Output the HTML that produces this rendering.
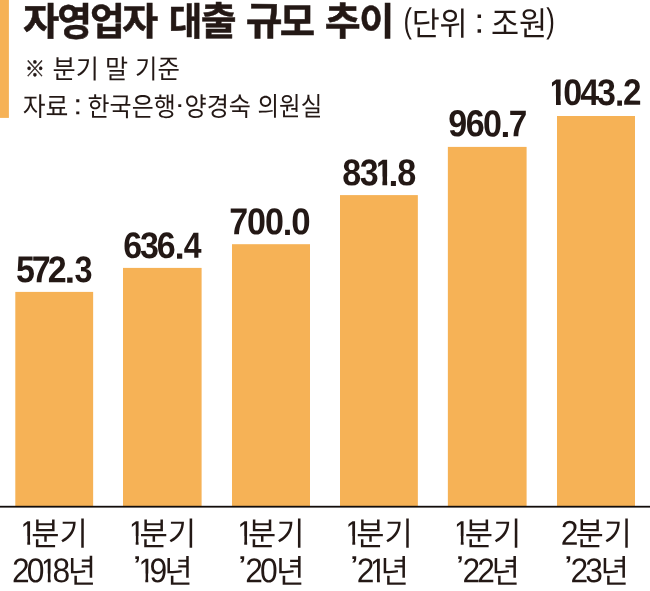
<!DOCTYPE html>
<html lang="ko">
<head>
<meta charset="utf-8">
<title>자영업자 대출 규모 추이</title>
<style>
html,body{margin:0;padding:0;background:#fff;}
body{width:650px;height:591px;position:relative;overflow:hidden;font-family:'Liberation Sans','Noto Sans CJK KR',sans-serif;color:#231815;}
h1,p,div,span{margin:0;padding:0;}
.shapes{position:absolute;left:0;top:0;display:block;}
.g{position:absolute;left:0;top:0;font-weight:400;font-size:16px;line-height:16px;white-space:pre;}
.t{position:absolute;left:0;top:0;white-space:pre;transform-origin:0 0;}
.sp{position:absolute;left:0;top:0;font-size:1px;line-height:1px;}
.tt{font-weight:700;font-size:38px;line-height:38px;-webkit-text-stroke:.5px #231815;}
.up{font-weight:400;font-size:33px;line-height:33px;}
.uh{font-weight:400;font-size:31px;line-height:31px;}
.uc{font-weight:400;font-size:31px;line-height:31px;}
.sh{font-weight:400;font-size:26px;line-height:26px;}
.sc{font-weight:400;font-size:26px;line-height:26px;}
.sx{font-weight:400;font-size:22px;line-height:22px;-webkit-text-stroke:.4px #231815;}
.vv{font-weight:700;font-size:37px;line-height:37px;letter-spacing:-1.4px;}
.ad{font-weight:400;font-size:34px;line-height:34px;letter-spacing:-3.1px;}
.ah{font-weight:400;font-size:32px;line-height:32px;}
.o{display:inline-block;letter-spacing:0;}
.ob{clip-path:polygon(19.6% 0,100% 0,100% 60%,66.9% 60%,66.9% 100%,41.7% 100%,41.7% 60%,19.6% 60%);}
.or{clip-path:polygon(22.5% 0,100% 0,100% 60%,61.4% 60%,61.4% 100%,44.9% 100%,44.9% 60%,22.5% 60%);}
</style>
</head>
<body>
<svg class="shapes" width="650" height="591" viewBox="0 0 650 591" aria-hidden="true"><rect x="0" y="0" width="8.9" height="117.9" fill="#f6b256"/><rect x="15.3" y="291.9" width="77.85" height="214.40" fill="#f6b256"/><rect x="123.0" y="267.9" width="78.60" height="238.40" fill="#f6b256"/><rect x="232.0" y="244.2" width="78.00" height="262.10" fill="#f6b256"/><rect x="340.0" y="195.1" width="77.85" height="311.20" fill="#f6b256"/><rect x="447.85" y="146.9" width="78.75" height="359.40" fill="#f6b256"/><rect x="557.0" y="116.0" width="78.00" height="390.30" fill="#f6b256"/><rect x="0" y="505.8" width="650" height="1.80" fill="#120c0a"/></svg>
<h1 class="g"><span class="t tt" id="t0" style="transform:translate(23.05px,2.63px) scale(1.0374,1.0158) rotate(.03deg)">자</span><span class="t tt" id="t1" style="transform:translate(57.39px,2.67px) scale(0.9908,1.0340) rotate(.03deg)">영</span><span class="t tt" id="t2" style="transform:translate(89.94px,2.85px) scale(0.9939,1.0136) rotate(.03deg)">업</span><span class="t tt" id="t3" style="transform:translate(122.22px,2.89px) scale(1.0282,1.0059) rotate(.03deg)">자</span><span class="sp"> </span><span class="t tt" id="t5" style="transform:translate(168.74px,2.73px) scale(0.9573,1.0147) rotate(.03deg)">대</span><span class="t tt" id="t6" style="transform:translate(200.76px,1.92px) scale(1.0251,1.0363) rotate(.03deg)">출</span><span class="sp"> </span><span class="t tt" id="t8" style="transform:translate(245.67px,1.99px) scale(1.0522,1.0339) rotate(.03deg)">규</span><span class="t tt" id="t9" style="transform:translate(279.79px,2.61px) scale(1.0121,1.0376) rotate(.03deg)">모</span><span class="sp"> </span><span class="t tt" id="t11" style="transform:translate(324.82px,2.03px) scale(1.0275,1.0345) rotate(.03deg)">추</span><span class="t tt" id="t12" style="transform:translate(359.17px,2.87px) scale(1.0027,1.0064) rotate(.03deg)">이</span></h1>
<div class="g"><span class="t up" id="u1" style="transform:translate(403.48px,2.79px) scale(0.7673,1.0484) rotate(.03deg)">(</span><span class="t uh" id="u2" style="transform:translate(411.68px,7.99px) scale(0.9803,1.0463) rotate(.03deg)">단위</span><span class="sp"> </span><span class="t uc" id="u3" style="transform:translate(474.25px,3.56px) scale(1.1731,1.1213) rotate(.03deg)">:</span><span class="sp"> </span><span class="t uh" id="u4" style="transform:translate(490.99px,7.76px) scale(0.9853,1.0600) rotate(.03deg)">조원</span><span class="t up" id="u5" style="transform:translate(546.33px,2.78px) scale(0.7854,1.0488) rotate(.03deg)">)</span></div>
<div class="g"><span class="t sx" id="s1a" style="transform:translate(24.81px,58.54px) scale(0.9227,1.0159) rotate(.03deg)">※</span><span class="sp"> </span><span class="t sh" id="s1b" style="transform:translate(52.60px,56.01px) scale(0.9673,1.0224) rotate(.03deg)">분기</span><span class="sp"> </span><span class="t sh" id="s1c" style="transform:translate(104.99px,55.97px) scale(0.9650,1.0204) rotate(.03deg)">말</span><span class="sp"> </span><span class="t sh" id="s1d" style="transform:translate(135.02px,56.01px) scale(0.9353,1.0224) rotate(.03deg)">기준</span></div>
<div class="g"><span class="t sh" id="s2a" style="transform:translate(22.80px,93.60px) scale(0.9544,1.0126) rotate(.03deg)">자료</span><span class="sp"> </span><span class="t sc" id="s2b" style="transform:translate(73.31px,90.25px) scale(1.2486,1.0883) rotate(.03deg)">:</span><span class="sp"> </span><span class="t sh" id="s2c" style="transform:translate(87.56px,93.69px) scale(0.9221,1.0223) rotate(.03deg)">한국은행</span><span class="t sc" id="s2d" style="transform:translate(174.53px,91.07px) scale(1.2149,0.9685) rotate(.03deg)">·</span><span class="t sh" id="s2e" style="transform:translate(184.49px,93.68px) scale(0.9266,1.0147) rotate(.03deg)">양경숙</span><span class="sp"> </span><span class="t sh" id="s2f" style="transform:translate(257.57px,93.44px) scale(0.9005,1.0097) rotate(.03deg)">의원실</span></div>
<div class="g"><span class="t vv" id="v0i" style="letter-spacing:-3.28px;transform:translate(15.92px,251.08px) scale(0.9200,1.0086) rotate(.03deg)">572</span><span class="t vv" id="v0p" style="transform:translate(64.44px,253.62px) scale(1.0450,0.9360) rotate(.03deg)">.</span><span class="t vv" id="v0l" style="transform:translate(74.54px,251.19px) scale(0.8770,0.9951) rotate(.03deg)">3</span></div>
<div class="g"><span class="t vv" id="v1i" style="letter-spacing:-2.47px;transform:translate(123.34px,227.04px) scale(0.9200,0.9978) rotate(.03deg)">636</span><span class="t vv" id="v1p" style="transform:translate(174.52px,229.62px) scale(1.0006,0.9360) rotate(.03deg)">.</span><span class="t vv" id="v1l" style="transform:translate(183.67px,227.27px) scale(0.8643,0.9868) rotate(.03deg)">4</span></div>
<div class="g"><span class="t vv" id="v2i" style="letter-spacing:-1.21px;transform:translate(229.27px,202.79px) scale(0.9200,1.0114) rotate(.03deg)">700</span><span class="t vv" id="v2p" style="transform:translate(282.68px,205.76px) scale(0.9275,0.9297) rotate(.03deg)">.</span><span class="t vv" id="v2l" style="transform:translate(291.38px,202.95px) scale(0.9408,1.0066) rotate(.03deg)">0</span></div>
<div class="g"><span class="t vv" id="v3i" style="letter-spacing:-1.45px;transform:translate(342.16px,154.14px) scale(0.9200,1.0033) rotate(.03deg)">83<span class="o ob" style="margin-left:-0.084em;margin-right:0em">1</span></span><span class="t vv" id="v3p" style="transform:translate(388.58px,157.82px) scale(0.9616,0.9052) rotate(.03deg)">.</span><span class="t vv" id="v3l" style="transform:translate(397.38px,153.97px) scale(0.9238,1.0066) rotate(.03deg)">8</span></div>
<div class="g"><span class="t vv" id="v4i" style="letter-spacing:-1.64px;transform:translate(448.23px,104.94px) scale(0.9200,1.0135) rotate(.03deg)">960</span><span class="t vv" id="v4p" style="transform:translate(500.58px,108.82px) scale(0.9616,0.9052) rotate(.03deg)">.</span><span class="t vv" id="v4l" style="transform:translate(508.65px,105.05px) scale(0.9004,1.0035) rotate(.03deg)">7</span></div>
<div class="g"><span class="t vv" id="v5i" style="letter-spacing:-2.31px;transform:translate(548.12px,74.02px) scale(0.9200,1.0008) rotate(.03deg)"><span class="o ob" style="margin-left:0em;margin-right:-0.108em">1</span>043</span><span class="t vv" id="v5p" style="transform:translate(614.91px,76.83px) scale(0.9020,0.9353) rotate(.03deg)">.</span><span class="t vv" id="v5l" style="transform:translate(623.09px,74.04px) scale(0.8991,0.9934) rotate(.03deg)">2</span></div>
<div class="g"><span class="t ad" id="q0d" style="transform:translate(19.33px,515.50px) scale(0.9350,1.0100) rotate(.03deg)"><span class="o or">1</span></span><span class="t ah" id="q0h" style="transform:translate(31.26px,517.96px) scale(0.9578,1.0101) rotate(.03deg)">분기</span><span class="sp"> </span><span class="t ad" id="y0d" style="transform:translate(11.94px,552.90px) scale(0.9350,1.0100) rotate(.03deg)">20<span class="o or" style="margin-left:-0.053em;margin-right:-0.16em">1</span>8</span><span class="t ah" id="y0h" style="transform:translate(67.64px,555.17px) scale(0.9630,1.0208) rotate(.03deg)">년</span></div>
<div class="g"><span class="t ad" id="q1d" style="transform:translate(127.75px,515.50px) scale(0.9350,1.0100) rotate(.03deg)"><span class="o or">1</span></span><span class="t ah" id="q1h" style="transform:translate(139.54px,517.93px) scale(0.9625,1.0098) rotate(.03deg)">분기</span><span class="sp"> </span><span class="t ad" id="y1a" style="transform:translate(132.68px,551.69px) scale(1.1426,0.7964) rotate(.03deg)">’</span><span class="t ad" id="y1d" style="transform:translate(137.39px,552.92px) scale(0.9350,1.0100) rotate(.03deg)"><span class="o or" style="margin-left:0em;margin-right:-0.175em">1</span>9</span><span class="t ah" id="y1h" style="transform:translate(164.33px,555.17px) scale(0.9627,1.0177) rotate(.03deg)">년</span></div>
<div class="g"><span class="t ad" id="q2d" style="transform:translate(236.30px,515.50px) scale(0.9350,1.0100) rotate(.03deg)"><span class="o or">1</span></span><span class="t ah" id="q2h" style="transform:translate(248.01px,517.93px) scale(0.9559,1.0098) rotate(.03deg)">분기</span><span class="sp"> </span><span class="t ad" id="y2a" style="transform:translate(237.74px,551.57px) scale(1.1832,0.7967) rotate(.03deg)">’</span><span class="t ad" id="y2d" style="transform:translate(245.14px,552.90px) scale(0.9350,1.0100) rotate(.03deg)">20</span><span class="t ah" id="y2h" style="transform:translate(275.90px,555.27px) scale(0.9674,1.0149) rotate(.03deg)">년</span></div>
<div class="g"><span class="t ad" id="q3d" style="transform:translate(344.38px,515.50px) scale(0.9350,1.0100) rotate(.03deg)"><span class="o or">1</span></span><span class="t ah" id="q3h" style="transform:translate(356.31px,517.99px) scale(0.9566,1.0104) rotate(.03deg)">분기</span><span class="sp"> </span><span class="t ad" id="y3a" style="transform:translate(349.74px,551.57px) scale(1.1832,0.7967) rotate(.03deg)">’</span><span class="t ad" id="y3d" style="transform:translate(356.72px,552.97px) scale(0.9350,1.0100) rotate(.03deg)">2<span class="o or" style="margin-left:-0.078em;margin-right:0em">1</span></span><span class="t ah" id="y3h" style="transform:translate(380.53px,555.17px) scale(0.9616,1.0178) rotate(.03deg)">년</span></div>
<div class="g"><span class="t ad" id="q4d" style="transform:translate(452.82px,515.50px) scale(0.9350,1.0100) rotate(.03deg)"><span class="o or">1</span></span><span class="t ah" id="q4h" style="transform:translate(464.73px,517.98px) scale(0.9603,1.0102) rotate(.03deg)">분기</span><span class="sp"> </span><span class="t ad" id="y4a" style="transform:translate(455.85px,551.57px) scale(1.1034,0.7969) rotate(.03deg)">’</span><span class="t ad" id="y4d" style="transform:translate(462.44px,552.97px) scale(0.9350,1.0100) rotate(.03deg)">22</span><span class="t ah" id="y4h" style="transform:translate(491.49px,555.27px) scale(0.9606,1.0150) rotate(.03deg)">년</span></div>
<div class="g"><span class="t ad" id="q5d" style="transform:translate(560.64px,515.43px) scale(0.9350,1.0100) rotate(.03deg)">2</span><span class="t ah" id="q5h" style="transform:translate(575.82px,517.98px) scale(0.9487,1.0134) rotate(.03deg)">분기</span><span class="sp"> </span><span class="t ad" id="y5a" style="transform:translate(564.01px,551.57px) scale(1.1388,0.7967) rotate(.03deg)">’</span><span class="t ad" id="y5d" style="transform:translate(570.44px,552.92px) scale(0.9350,1.0100) rotate(.03deg)">23</span><span class="t ah" id="y5h" style="transform:translate(600.53px,555.17px) scale(0.9616,1.0178) rotate(.03deg)">년</span></div>
</body>
</html>
